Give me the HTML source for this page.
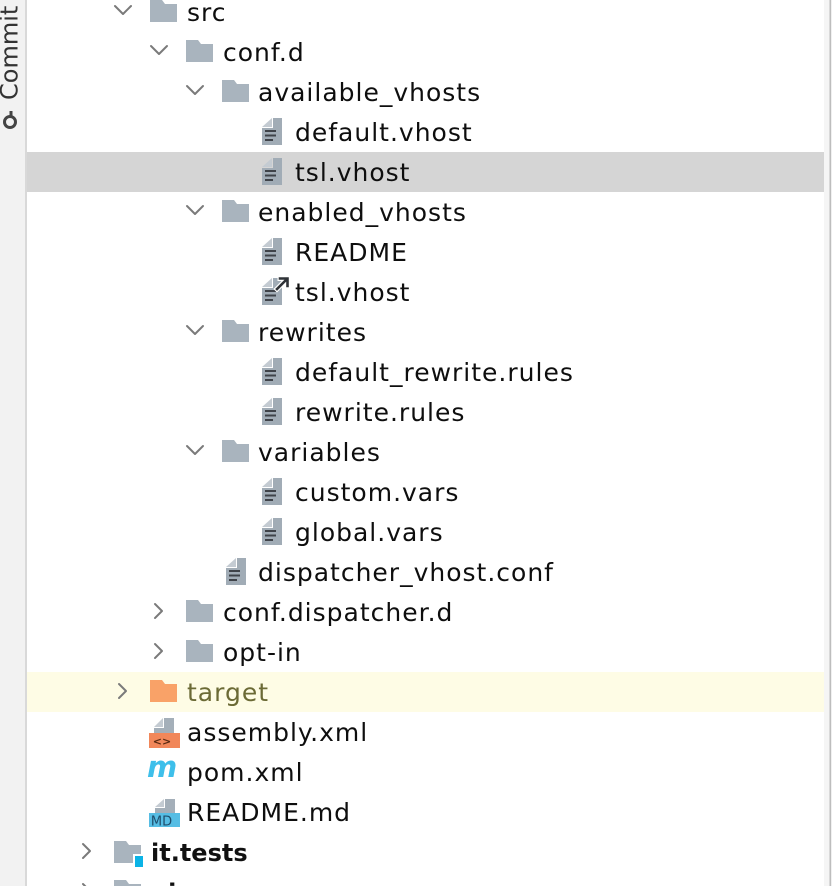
<!DOCTYPE html>
<html>
<head>
<meta charset="utf-8">
<style>
  html,body{margin:0;padding:0;background:#fff;}
  body{width:832px;height:886px;overflow:hidden;}
  svg{display:block;}
  .t{font-family:"DejaVu Sans","Liberation Sans",sans-serif;font-size:25px;letter-spacing:1.0px;fill:#0e0e0e;}
  .b{font-family:"DejaVu Sans","Liberation Sans",sans-serif;font-size:24px;font-weight:bold;fill:#111;}
  .ch{fill:none;stroke:#7a7a7a;stroke-width:2;stroke-linecap:round;stroke-linejoin:round;}
</style>
</head>
<body>
<svg width="832" height="886" viewBox="0 0 832 886" xmlns="http://www.w3.org/2000/svg">
  <defs>
    <path id="folder" d="M0 0 H12 L15 4 H27 V22 H0 Z" fill="#a9b4be"/>
    <path id="ofolder" d="M0 0 H12 L15 4 H27 V22 H0 Z" fill="#f9a268"/>
    <g id="file">
      <path d="M11 0 H20 V27 H0 V10 H11 Z" fill="#a1acb6"/>
      <path d="M0 9 L10 0 V9 Z" fill="#c4cbd2"/>
      <rect x="3" y="12" width="11" height="2" fill="#3f4349"/>
      <rect x="3" y="16.5" width="11" height="2" fill="#3f4349"/>
      <rect x="3" y="21" width="8" height="2" fill="#3f4349"/>
    </g>
  </defs>

  <!-- left sidebar -->
  <rect x="0" y="0" width="25" height="886" fill="#f2f2f2"/>
  <rect x="25" y="0" width="2" height="886" fill="#d9d9d9"/>
  <text transform="translate(17.5,100) rotate(-90)" font-family="DejaVu Sans, sans-serif" font-size="24" fill="#333333">Commit</text>
  <circle cx="10" cy="122" r="5.5" fill="none" stroke="#444" stroke-width="3"/>
  <line x1="11" y1="111" x2="11" y2="117" stroke="#444" stroke-width="3"/>

  <!-- right strip -->
  <rect x="824" y="0" width="8" height="886" fill="#f5f5f5"/>
  <rect x="829.5" y="0" width="1.6" height="886" fill="#bdbdbd"/>

  <!-- highlights -->
  <rect x="27" y="152" width="797" height="40" fill="#d5d5d5"/>
  <rect x="27" y="672" width="797" height="40" fill="#fefce5"/>

  <!-- row 0 src -->
  <polyline class="ch" points="115,6 123,14 131,6"/>
  <use href="#folder" x="150" y="0"/>
  <text class="t" x="187" y="21">src</text>

  <!-- row 1 conf.d -->
  <polyline class="ch" points="151,46 159,54 167,46"/>
  <use href="#folder" x="186" y="40"/>
  <text class="t" x="223" y="61">conf.d</text>

  <!-- row 2 available_vhosts -->
  <polyline class="ch" points="187,86 195,94 203,86"/>
  <use href="#folder" x="222" y="80"/>
  <text class="t" x="258" y="101">available_vhosts</text>

  <!-- row 3 -->
  <use href="#file" x="262" y="118"/>
  <text class="t" x="295" y="141">default.vhost</text>

  <!-- row 4 -->
  <use href="#file" x="262" y="158"/>
  <text class="t" x="295" y="181">tsl.vhost</text>

  <!-- row 5 enabled_vhosts -->
  <polyline class="ch" points="187,206 195,214 203,206"/>
  <use href="#folder" x="222" y="200"/>
  <text class="t" x="258" y="221">enabled_vhosts</text>

  <!-- row 6 README -->
  <use href="#file" x="262" y="238"/>
  <text class="t" x="295" y="261">README</text>

  <!-- row 7 tsl.vhost symlink -->
  <use href="#file" x="262" y="278"/>
  <g fill="none" stroke-linecap="square">
    <path d="M277 289 L287 279 M280 278.5 H287.5 V286" stroke="#ffffff" stroke-width="5"/>
    <path d="M277 289 L287 279 M280 278.5 H287.5 V286" stroke="#2f3237" stroke-width="2.6"/>
  </g>
  <text class="t" x="295" y="301">tsl.vhost</text>

  <!-- row 8 rewrites -->
  <polyline class="ch" points="187,326 195,334 203,326"/>
  <use href="#folder" x="222" y="320"/>
  <text class="t" x="258" y="341">rewrites</text>

  <!-- row 9 -->
  <use href="#file" x="262" y="358"/>
  <text class="t" x="295" y="381">default_rewrite.rules</text>

  <!-- row 10 -->
  <use href="#file" x="262" y="398"/>
  <text class="t" x="295" y="421">rewrite.rules</text>

  <!-- row 11 variables -->
  <polyline class="ch" points="187,446 195,454 203,446"/>
  <use href="#folder" x="222" y="440"/>
  <text class="t" x="258" y="461">variables</text>

  <!-- row 12 -->
  <use href="#file" x="262" y="478"/>
  <text class="t" x="295" y="501">custom.vars</text>

  <!-- row 13 -->
  <use href="#file" x="262" y="518"/>
  <text class="t" x="295" y="541">global.vars</text>

  <!-- row 14 -->
  <use href="#file" x="226" y="558"/>
  <text class="t" x="258" y="581">dispatcher_vhost.conf</text>

  <!-- row 15 conf.dispatcher.d -->
  <polyline class="ch" points="155,604 162,611 155,618"/>
  <use href="#folder" x="186" y="600"/>
  <text class="t" x="223" y="621">conf.dispatcher.d</text>

  <!-- row 16 opt-in -->
  <polyline class="ch" points="155,644 162,651 155,658"/>
  <use href="#folder" x="186" y="640"/>
  <text class="t" x="223" y="661">opt-in</text>

  <!-- row 17 target -->
  <polyline class="ch" points="119,684 126,691 119,698"/>
  <use href="#ofolder" x="150" y="680"/>
  <text class="t" x="187" y="701" style="fill:#6b6a35">target</text>

  <!-- row 18 assembly.xml -->
  <g transform="translate(149,718)">
    <path d="M15 0 H25 V15 H5 V10 H15 Z" fill="#a4afb9"/>
    <path d="M5 9 L14 0 V9 Z" fill="#c4cbd2"/>
    <rect x="0" y="15" width="31" height="15" fill="#f1875a"/>
    <text x="13" y="27" text-anchor="middle" font-family="DejaVu Sans, sans-serif" font-size="11" font-weight="bold" fill="#5a2a12">&lt;&gt;</text>
  </g>
  <text class="t" x="187" y="741">assembly.xml</text>

  <!-- row 19 pom.xml -->
  <text x="147" y="777" font-family="DejaVu Sans, sans-serif" font-size="29" font-weight="bold" font-style="italic" fill="#3ebfea">m</text>
  <text class="t" x="187" y="781">pom.xml</text>

  <!-- row 20 README.md -->
  <g transform="translate(149,799)">
    <path d="M16 0 H26 V14 H6 V9 H16 Z" fill="#a4afb9"/>
    <path d="M6 8 L15 0 V8 Z" fill="#c4cbd2"/>
    <rect x="0" y="14" width="31" height="14" fill="#56bde4"/>
    <text x="12.5" y="26.5" text-anchor="middle" font-family="DejaVu Sans, sans-serif" font-size="13" fill="#1e4d6b">MD</text>
  </g>
  <text class="t" x="187" y="821">README.md</text>

  <!-- row 21 it.tests -->
  <polyline class="ch" points="83,844 90,851 83,858"/>
  <use href="#folder" x="114" y="841"/>
  <rect x="19" y="13" width="13" height="15" transform="translate(114,841)" fill="#ffffff"/>
  <rect x="135" y="856" width="8" height="11" fill="#0bb3e6"/>
  <text class="b" x="151" y="861">it.tests</text>

  <!-- row 22 ui.apps (partial) -->
  <polyline class="ch" points="83,884 90,891 83,898"/>
  <use href="#folder" x="114" y="880"/>
  <text class="b" x="151" y="901">ui.apps</text>
</svg>
</body>
</html>
